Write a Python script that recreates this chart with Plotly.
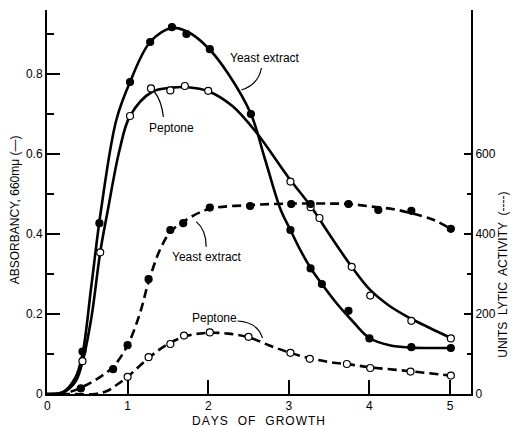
import plotly.graph_objects as go

# ---- measured data points ----
days_ye_abs = [0.44, 0.65, 1.03, 1.28, 1.55, 1.73, 2.02, 2.53, 3.02, 3.27, 3.41, 3.74, 4.0, 4.52, 5.01]
ye_abs = [0.106, 0.427, 0.78, 0.88, 0.917, 0.90, 0.862, 0.70, 0.41, 0.314, 0.275, 0.208, 0.139, 0.117, 0.115]

days_pep_abs = [0.44, 0.66, 1.03, 1.29, 1.53, 1.71, 2.0, 3.02, 3.27, 3.38, 3.78, 4.01, 4.52, 5.01]
pep_abs = [0.082, 0.354, 0.695, 0.764, 0.759, 0.77, 0.758, 0.531, 0.467, 0.44, 0.318, 0.246, 0.183, 0.139]

days_ye_lyt = [0.42, 0.82, 1.0, 1.26, 1.53, 1.69, 2.02, 2.52, 3.03, 3.27, 3.74, 4.11, 4.52, 5.01]
ye_lyt = [14, 62, 122, 287, 410, 427, 466, 470, 475, 475, 475, 460, 458, 413]

days_pep_lyt = [1.0, 1.26, 1.53, 1.70, 2.02, 2.5, 3.02, 3.26, 3.72, 4.01, 4.51, 5.01]
pep_lyt = [43, 92, 125, 146, 154, 143, 103, 88, 75, 65, 56, 46]

# ---- smooth fitted curves ----
fit_ye_abs_x = [0, 0.2, 0.35, 0.44, 0.55, 0.67, 0.86, 1.03, 1.28, 1.55, 1.75, 2.0, 2.25, 2.53, 2.7, 2.9, 3.02, 3.15, 3.27, 3.41, 3.6, 3.8, 4.0, 4.25, 4.52, 4.75, 5.01]
fit_ye_abs_y = [0, 0.005, 0.04, 0.1, 0.27, 0.46, 0.685, 0.78, 0.88, 0.915, 0.905, 0.865, 0.80, 0.70, 0.59, 0.46, 0.41, 0.357, 0.315, 0.275, 0.225, 0.18, 0.14, 0.122, 0.116, 0.115, 0.115]

fit_pep_abs_x = [0, 0.2, 0.35, 0.44, 0.55, 0.66, 0.755, 0.9, 1.03, 1.3, 1.55, 1.75, 2.0, 2.3, 2.6, 3.0, 3.27, 3.5, 3.78, 4.0, 4.25, 4.5, 4.75, 5.01]
fit_pep_abs_y = [0, 0.004, 0.03, 0.08, 0.19, 0.354, 0.46, 0.61, 0.695, 0.755, 0.766, 0.767, 0.757, 0.72, 0.653, 0.54, 0.47, 0.40, 0.318, 0.262, 0.22, 0.19, 0.165, 0.14]

fit_ye_lyt_x = [0.12, 0.3, 0.42, 0.6, 0.82, 1.0, 1.15, 1.26, 1.4, 1.53, 1.7, 2.0, 2.5, 3.0, 3.5, 3.75, 4.0, 4.3, 4.52, 4.8, 5.01]
fit_ye_lyt_y = [0, 6, 16, 35, 68, 122, 200, 280, 360, 405, 432, 462, 472, 476, 476, 475, 469, 462, 452, 435, 413]

fit_pep_lyt_x = [0, 0.3, 0.6, 0.75, 0.88, 1.0, 1.26, 1.5, 1.75, 2.0, 2.25, 2.5, 2.75, 3.0, 3.25, 3.5, 3.75, 4.0, 4.5, 5.01]
fit_pep_lyt_y = [0, 0, 0, 8, 25, 43, 90, 125, 146, 153, 151, 142, 122, 104, 90, 80, 74, 67, 57, 46]

x_ticks = [0, 1, 2, 3, 4, 5]
x_ticklabels = ["0", "1", "2", "3", "4", "5"]
left_ticks = [0, 0.2, 0.4, 0.6, 0.8]
left_ticklabels = ["0", "0.2", "0.4", "0.6", "0.8"]
left_minor = [0.1, 0.3, 0.5, 0.7, 0.9]
right_ticks = [0, 200, 400, 600]
right_ticklabels = ["0", "200", "400", "600"]
right_minor = [100, 300, 500]

FONT = "Liberation Sans, Arial, sans-serif"
LW = 2.6
HS = "\u200a"  # hair space for letter spacing


def spaced(s):
    return HS.join(list(s))


fig = go.Figure()


def curve(x, y, dash, axis):
    fig.add_trace(go.Scatter(x=x, y=y, mode="lines", yaxis=axis,
                             line=dict(color="black", width=LW, dash=dash, shape="spline", smoothing=1.0),
                             hoverinfo="skip", showlegend=False))


def pts(x, y, filled, axis):
    fig.add_trace(go.Scatter(x=x, y=y, mode="markers", yaxis=axis,
                             marker=dict(size=7, color="black" if filled else "white",
                                         line=dict(color="black", width=1.2)),
                             showlegend=False))


curve(fit_ye_abs_x, fit_ye_abs_y, "solid", "y")
curve(fit_pep_abs_x, fit_pep_abs_y, "solid", "y")
curve(fit_ye_lyt_x, fit_ye_lyt_y, "9px,5px", "y2")
curve(fit_pep_lyt_x, fit_pep_lyt_y, "9px,5px", "y2")
pts(days_ye_abs, ye_abs, True, "y")
pts(days_pep_abs, pep_abs, False, "y")
pts(days_ye_lyt, ye_lyt, True, "y2")
pts(days_pep_lyt, pep_lyt, False, "y2")

# leader lines for labels
leaders = [
    "M 2.66 0.815 Q 2.62 0.7725 2.41 0.76",
    "M 1.445 0.6925 Q 1.417 0.735 1.334 0.755",
    "M 1.975 0.368 Q 1.975 0.41 1.851 0.431",
    "M 2.363 0.1825 Q 2.611 0.18 2.673 0.14",
]
for p in leaders:
    fig.add_shape(type="path", path=p, xref="x", yref="y",
                  line=dict(color="black", width=1.2))

labels = [
    ("Yeast extract", 2.71, 0.84),
    ("Peptone", 1.545, 0.665),
    ("Yeast extract", 1.99, 0.3425),
    ("Peptone", 2.08, 0.19),
]
for t, x, y in labels:
    fig.add_annotation(text=t, x=x, y=y, xref="x", yref="y", showarrow=False,
                       font=dict(family=FONT, size=12, color="black"))

fig.add_annotation(text="ABSORBANCY, 660mμ (—)", x=-0.075, y=0.479, xref="paper", yref="paper",
                   xanchor="center", yanchor="middle",
                   showarrow=False, textangle=-90, font=dict(family=FONT, size=12, color="black"))
fig.add_annotation(text="UNITS  LYTIC  ACTIVITY  (----)", x=1.075, y=0.31, xref="paper", yref="paper",
                   xanchor="center", yanchor="middle",
                   showarrow=False, textangle=-90, font=dict(family=FONT, size=12, color="black"))
fig.add_annotation(text=spaced("DAYS") + "   " + spaced("OF") + "   " + spaced("GROWTH"),
                   x=0.498, y=-0.0703, xref="paper", yref="paper",
                   xanchor="center", yanchor="middle",
                   showarrow=False, font=dict(family=FONT, size=12, color="black"))

fig.update_layout(
    width=510, height=419,
    margin=dict(l=39, r=47, t=2, b=33),
    paper_bgcolor="white", plot_bgcolor="white",
    font=dict(family=FONT, size=12, color="black"),
    xaxis=dict(range=[0, 5.26], showgrid=False, zeroline=False, automargin=False,
               showline=True, linecolor="black", linewidth=2,
               tickvals=x_ticks[1:], ticktext=x_ticklabels[1:],
               ticks="inside", ticklen=14, tickwidth=1.5, tickcolor="black"),
    yaxis=dict(range=[0, 0.96], showgrid=False, zeroline=False, automargin=False,
               showline=True, linecolor="black", linewidth=2,
               tickvals=left_ticks, ticktext=left_ticklabels,
               ticks="inside", ticklen=13, tickwidth=1.5, tickcolor="black",
               minor=dict(tickvals=left_minor, ticks="inside", ticklen=7, tickwidth=1.5, tickcolor="black")),
    yaxis2=dict(range=[0, 960], overlaying="y", side="right", showgrid=False, zeroline=False,
                automargin=False,
                showline=True, linecolor="black", linewidth=2,
                tickvals=right_ticks, ticktext=right_ticklabels,
                ticks="inside", ticklen=7, tickwidth=1.5, tickcolor="black",
                minor=dict(tickvals=right_minor, ticks="inside", ticklen=4, tickwidth=1.5, tickcolor="black")),
)
# x-axis "0" label below the origin
fig.add_annotation(text=x_ticklabels[0], x=x_ticks[0], y=0, xref="x", yref="paper", yanchor="top",
                   yshift=-3, showarrow=False, font=dict(family=FONT, size=12, color="black"))

fig.write_html("out.html")
